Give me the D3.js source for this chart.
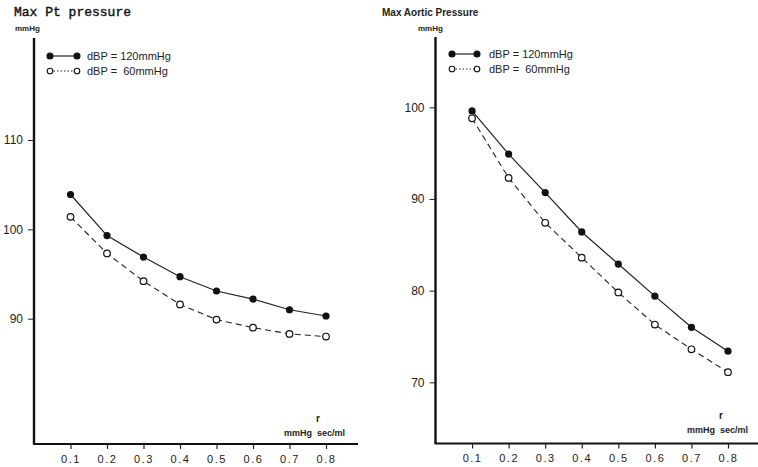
<!DOCTYPE html>
<html><head><meta charset="utf-8">
<script src="https://cdn.jsdelivr.net/npm/d3@7"></script>
<style>
body{margin:0;background:#fff;}
svg{display:block;}
.tk{font-family:"Liberation Sans Narrow","Liberation Sans",Arial,sans-serif;font-size:12px;fill:#222;}
.xt{font-family:"Liberation Sans",Arial,sans-serif;font-size:11px;letter-spacing:1.5px;fill:#222;}
.sm{font-family:"Liberation Sans",Arial,sans-serif;font-size:8px;font-weight:bold;fill:#222;}
.lg{font-family:"Liberation Sans Narrow","Liberation Sans",Arial,sans-serif;font-size:11px;fill:#222;}
</style></head>
<body><svg id="c" width="758" height="467"></svg>
<script>
const rValues = [0.1,0.2,0.3,0.4,0.5,0.6,0.7,0.8];
const xTickLabels = ["0.1","0.2","0.3","0.4","0.5","0.6","0.7","0.8"];
// Max Pt pressure
const ptHigh = [103.9,99.3,96.9,94.7,93.1,92.2,91.0,90.3];
const ptLow  = [101.4,97.3,94.2,91.6,89.9,89.0,88.3,88.0];
const ptTicks = [90,100,110];
// Max Aortic pressure
const aoHigh = [99.6,94.9,90.7,86.4,82.9,79.4,76.0,73.4];
const aoLow  = [98.8,92.3,87.4,83.6,79.8,76.3,73.6,71.1];
const aoTicks = [70,80,90,100];
const seriesNames = ["dBP = 120mmHg","dBP =  60mmHg"];

const svg = d3.select("#c");

function panel(cfg){
  const g = svg.append("g");
  const x = d3.scaleLinear().domain([0,0.8]).range([cfg.x0, cfg.x8]);
  const y = d3.scaleLinear().domain(cfg.yDom).range(cfg.yRange);
  g.append("line").attr("x1",cfg.x0).attr("x2",cfg.x0).attr("y1",cfg.axTop).attr("y2",cfg.axBot)
    .attr("stroke","#111").attr("stroke-width",2.4);
  g.append("line").attr("x1",cfg.x0-1).attr("x2",cfg.axRight).attr("y1",cfg.axBot).attr("y2",cfg.axBot)
    .attr("stroke","#111").attr("stroke-width",2);
  const ya = g.append("g").attr("transform",`translate(${cfg.x0},0)`)
    .call(d3.axisLeft(y).tickValues(cfg.ticks).tickSize(6).tickPadding(5).tickFormat(d3.format("d")));
  ya.select(".domain").remove();
  ya.selectAll(".tick line").attr("stroke","#222").attr("stroke-width",1);
  ya.selectAll(".tick text").attr("class","tk").attr("font-family",null).attr("font-size",null);
  const xa = g.append("g").attr("transform",`translate(0,${cfg.axBot})`)
    .call(d3.axisBottom(x).tickValues(rValues).tickSize(5).tickPadding(6)
      .tickFormat((d,i)=>xTickLabels[i]));
  xa.select(".domain").remove();
  xa.selectAll(".tick line").attr("stroke","#222").attr("stroke-width",1.2);
  xa.selectAll(".tick text").attr("class","xt").attr("font-family",null).attr("font-size",null);
  const line = d3.line().x((d,i)=>x(rValues[i])).y(d=>y(d));
  g.append("path").datum(cfg.high).attr("d",line).attr("fill","none").attr("stroke","#222").attr("stroke-width",1.2);
  g.append("path").datum(cfg.low).attr("d",line).attr("fill","none").attr("stroke","#222").attr("stroke-width",1.1)
    .attr("stroke-dasharray","6,4");
  g.selectAll(".ph").data(cfg.high).enter().append("circle")
    .attr("cx",(d,i)=>x(rValues[i])).attr("cy",d=>y(d)).attr("r",3.6).attr("fill","#111");
  g.selectAll(".pl").data(cfg.low).enter().append("circle")
    .attr("cx",(d,i)=>x(rValues[i])).attr("cy",d=>y(d)).attr("r",3.3).attr("fill","#fff")
    .attr("stroke","#111").attr("stroke-width",1.2);
  const L = cfg.leg;
  [0,1].forEach(k=>{
    const ly = L.y + k*15;
    g.append("line").attr("x1",L.x).attr("x2",L.x+L.w).attr("y1",ly).attr("y2",ly)
      .attr("stroke","#222").attr("stroke-width",k?1:1.2).attr("stroke-dasharray",k?"1.5,2":null);
    [L.x,L.x+L.w].forEach(cx=>{
      g.append("circle").attr("cx",cx).attr("cy",ly).attr("r",k?2.8:3)
        .attr("fill",k?"#fff":"#111").attr("stroke","#111").attr("stroke-width",1.1);
    });
    g.append("text").attr("class","lg").attr("x",L.tx).attr("y",ly+4).attr("xml:space","preserve")
      .style("white-space","pre").text(seriesNames[k]);
  });
  g.append("text").attr("class","sm").attr("x",cfg.unitX).attr("y",31).text("mmHg");
  g.append("text").attr("class","sm").attr("x",cfg.rX).attr("y",cfg.rY).style("font-size","10px").text("r");
  g.append("text").attr("class","sm").attr("x",cfg.xuX).attr("y",cfg.rY+14).attr("xml:space","preserve")
    .style("white-space","pre").style("font-size","9px").text("mmHg  sec/ml");
}

panel({x0:34,x8:326,axTop:38,axBot:444,axRight:358,yDom:[90,110],yRange:[318.7,140],
  ticks:ptTicks,high:ptHigh,low:ptLow,leg:{x:50,w:27,y:56,tx:87},unitX:15,rX:316,rY:422,xuX:284});
panel({x0:435.5,x8:728,axTop:37,axBot:443.5,axRight:760,yDom:[70,100],yRange:[382.3,107.3],
  ticks:aoTicks,high:aoHigh,low:aoLow,leg:{x:452,w:25,y:54,tx:489},unitX:418,rX:719,rY:419,xuX:687});

svg.append("text").attr("x",14).attr("y",16)
  .style("font-family","'Liberation Mono','DejaVu Sans Mono',monospace").style("font-size","13px")
  .style("fill","#111").style("stroke","#111").style("stroke-width","0.4").text("Max Pt pressure");
svg.append("text").attr("x",382).attr("y",16)
  .style("font-family","'Liberation Sans',Arial,sans-serif").style("font-size","10px")
  .style("font-weight","bold").style("fill","#222").text("Max Aortic Pressure");
</script></body></html>
